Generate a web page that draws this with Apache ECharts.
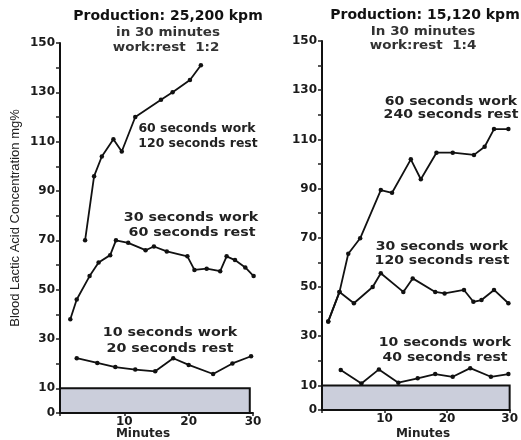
<!DOCTYPE html>
<html>
<head>
<meta charset="utf-8">
<script src="https://cdn.jsdelivr.net/npm/echarts@6/dist/echarts.min.js"></script>
<style>html,body{margin:0;padding:0;background:#fff}#c{width:521px;height:440px}</style>
</head>
<body>
<div id="c"></div>
<script>
// ---- data (minutes, mg%) ----
const left60X = [3.9, 5.3, 6.5, 8.3, 9.6, 11.7, 15.7, 17.5, 20.2, 21.9];
const left60Y = [70, 96, 104, 111, 106, 120, 127, 130, 135, 141];
const left30X = [1.6, 2.6, 4.6, 6.0, 7.8, 8.7, 10.6, 13.3, 14.6, 16.6, 19.8, 20.9, 22.8, 24.9, 25.9, 27.2, 28.8, 30.1];
const left30Y = [38, 46, 55.5, 61, 64, 70, 69, 66, 67.5, 65.5, 63.5, 58, 58.5, 57.5, 63.5, 62, 59, 55.5];
const left10X = [2.6, 5.8, 8.6, 11.7, 14.8, 17.6, 20.0, 23.8, 26.8, 29.7];
const left10Y = [22.2, 20.3, 18.6, 17.6, 16.9, 22.2, 19.5, 15.8, 20.1, 23.0];

const right60X = [1.0, 2.8, 4.2, 6.1, 9.4, 11.2, 14.2, 15.8, 18.3, 20.9, 24.3, 26.0, 27.5, 29.8];
const right60Y = [36, 48, 63.5, 69.8, 89.4, 88.3, 101.9, 93.8, 104.6, 104.6, 103.7, 107, 114.2, 114.2];
const right30X = [1.0, 2.8, 5.1, 8.1, 9.4, 13.0, 14.5, 18.1, 19.6, 22.7, 24.2, 25.5, 27.5, 29.8];
const right30Y = [36, 48, 43.4, 50, 55.6, 48, 53.5, 48, 47.4, 48.8, 44, 44.7, 48.8, 43.4];
const right10X = [3.0, 6.3, 9.1, 12.2, 15.3, 18.1, 20.9, 23.7, 27.0, 29.8];
const right10Y = [16.3, 10.8, 16.5, 11.1, 12.9, 14.6, 13.5, 17.0, 13.5, 14.6];

// shaded normal band: [xStart, xEnd, yLow, yHigh]
const leftBand = [0, 29.5, 0, 10];
const rightBand = [0, 30, 0, 10];

const yTicks = [0, 10, 30, 50, 70, 90, 110, 130, 150];
const xTicks = [10, 20, 30];

const titlesLeft = ['Production: 25,200 kpm', 'in 30 minutes', 'work:rest  1:2'];
const titlesRight = ['Production: 15,120 kpm', 'In 30 minutes', 'work:rest  1:4'];
const labelsLeft = [['60 seconds work', '120 seconds rest'], ['30 seconds work', '60 seconds rest'], ['10 seconds work', '20 seconds rest']];
const labelsRight = [['60 seconds work', '240 seconds rest'], ['30 seconds work', '120 seconds rest'], ['10 seconds work', '40 seconds rest']];

const zip = (xs, ys) => xs.map((x, i) => [x, ys[i]]);

const FONT = '"DejaVu Sans", sans-serif';
function yAxisCfg(gi) {
  return {
    type: 'value', gridIndex: gi, min: 0, max: 150, interval: 10,
    axisLine: { show: true, lineStyle: { color: '#111', width: 2 } },
    axisTick: { show: true, length: 4, lineStyle: { color: '#222', width: 1.5 } },
    splitLine: { show: false },
    axisLabel: {
      margin: 5, color: '#1a1a1a', fontFamily: FONT, fontWeight: 'bold', fontSize: 12,
      formatter: v => (yTicks.indexOf(v) >= 0 ? String(v) : '')
    }
  };
}
function xAxisCfg(gi) {
  return {
    type: 'value', gridIndex: gi, min: 0, max: 30, interval: 10,
    axisLine: { show: true, lineStyle: { color: '#111', width: 2 } },
    axisTick: { show: true, length: 3, lineStyle: { color: '#222', width: 1.5 } },
    splitLine: { show: false },
    axisLabel: {
      margin: 3, color: '#1a1a1a', fontFamily: FONT, fontWeight: 'bold', fontSize: 12,
      formatter: v => (xTicks.indexOf(v) >= 0 ? String(v) : '')
    }
  };
}
function lineSeries(gi, data, band) {
  const s = {
    type: 'line', xAxisIndex: gi, yAxisIndex: gi, data: data, clip: false,
    symbol: 'circle', symbolSize: 4.5, showSymbol: true,
    lineStyle: { color: '#111', width: 1.8 },
    itemStyle: { color: '#111' },
    silent: true, animation: false, z: 5
  };
  if (band) {
    s.markArea = {
      silent: true,
      itemStyle: { color: '#cbcedb', borderColor: '#111', borderWidth: 2 },
      data: [[{ xAxis: band[0], yAxis: band[2] }, { xAxis: band[1], yAxis: band[3] }]]
    };
  }
  return s;
}

function txt(x, y, text, size, color, scaleX, weight, rot) {
  return {
    type: 'text', x: x, y: y, scaleX: scaleX || 1, rotation: rot || 0, silent: true, z: 10,
    style: { text: text, fontFamily: FONT, fontSize: size, fontWeight: weight || 'bold', fill: color, align: 'center', verticalAlign: 'middle' }
  };
}

const graphics = [
  txt(168, 16, titlesLeft[0], 14, '#111', 1),
  txt(168, 33, titlesLeft[1], 12.5, '#333', 1.08),
  txt(166, 48, titlesLeft[2], 12.5, '#333', 1.08),
  txt(425, 15, titlesRight[0], 14, '#111', 1),
  txt(423, 32, titlesRight[1], 12.5, '#333', 1.08),
  txt(423, 46, titlesRight[2], 12.5, '#333', 1.08),

  txt(197, 129, labelsLeft[0][0], 11.5, '#222', 1.08),
  txt(198, 144, labelsLeft[0][1], 11.5, '#222', 1.08),
  txt(191, 218, labelsLeft[1][0], 11.5, '#222', 1.24),
  txt(192, 233, labelsLeft[1][1], 11.5, '#222', 1.24),
  txt(170, 333, labelsLeft[2][0], 11.5, '#222', 1.24),
  txt(170, 349, labelsLeft[2][1], 11.5, '#222', 1.24),

  txt(451, 102, labelsRight[0][0], 11.5, '#222', 1.22),
  txt(451, 115, labelsRight[0][1], 11.5, '#222', 1.22),
  txt(442, 247, labelsRight[1][0], 11.5, '#222', 1.22),
  txt(442, 261, labelsRight[1][1], 11.5, '#222', 1.22),
  txt(445, 343, labelsRight[2][0], 11.5, '#222', 1.22),
  txt(445, 358, labelsRight[2][1], 11.5, '#222', 1.22),

  txt(143, 434, 'Minutes', 12, '#222', 1),
  txt(423, 434, 'Minutes', 12, '#222', 1),
  {
    type: 'text', x: 15, y: 218, rotation: Math.PI / 2, silent: true, z: 10,
    style: { text: 'Blood Lactic Acid Concentration mg%', fontFamily: '"Liberation Sans", Arial, sans-serif', fontSize: 13, fill: '#222', align: 'center', verticalAlign: 'middle' }
  }
];

const chart = echarts.init(document.getElementById('c'), null, { renderer: 'canvas' });
chart.setOption({
  animation: false,
  backgroundColor: '#fff',
  grid: [
    { left: 60, top: 43, width: 193, height: 370 },
    { left: 322, top: 41, width: 196, height: 369 }
  ],
  xAxis: [xAxisCfg(0), xAxisCfg(1)],
  yAxis: [yAxisCfg(0), yAxisCfg(1)],
  series: [
    lineSeries(0, zip(left60X, left60Y), leftBand),
    lineSeries(0, zip(left30X, left30Y)),
    lineSeries(0, zip(left10X, left10Y)),
    lineSeries(1, zip(right60X, right60Y), rightBand),
    lineSeries(1, zip(right30X, right30Y)),
    lineSeries(1, zip(right10X, right10Y))
  ],
  graphic: graphics
});
</script>
</body>
</html>
